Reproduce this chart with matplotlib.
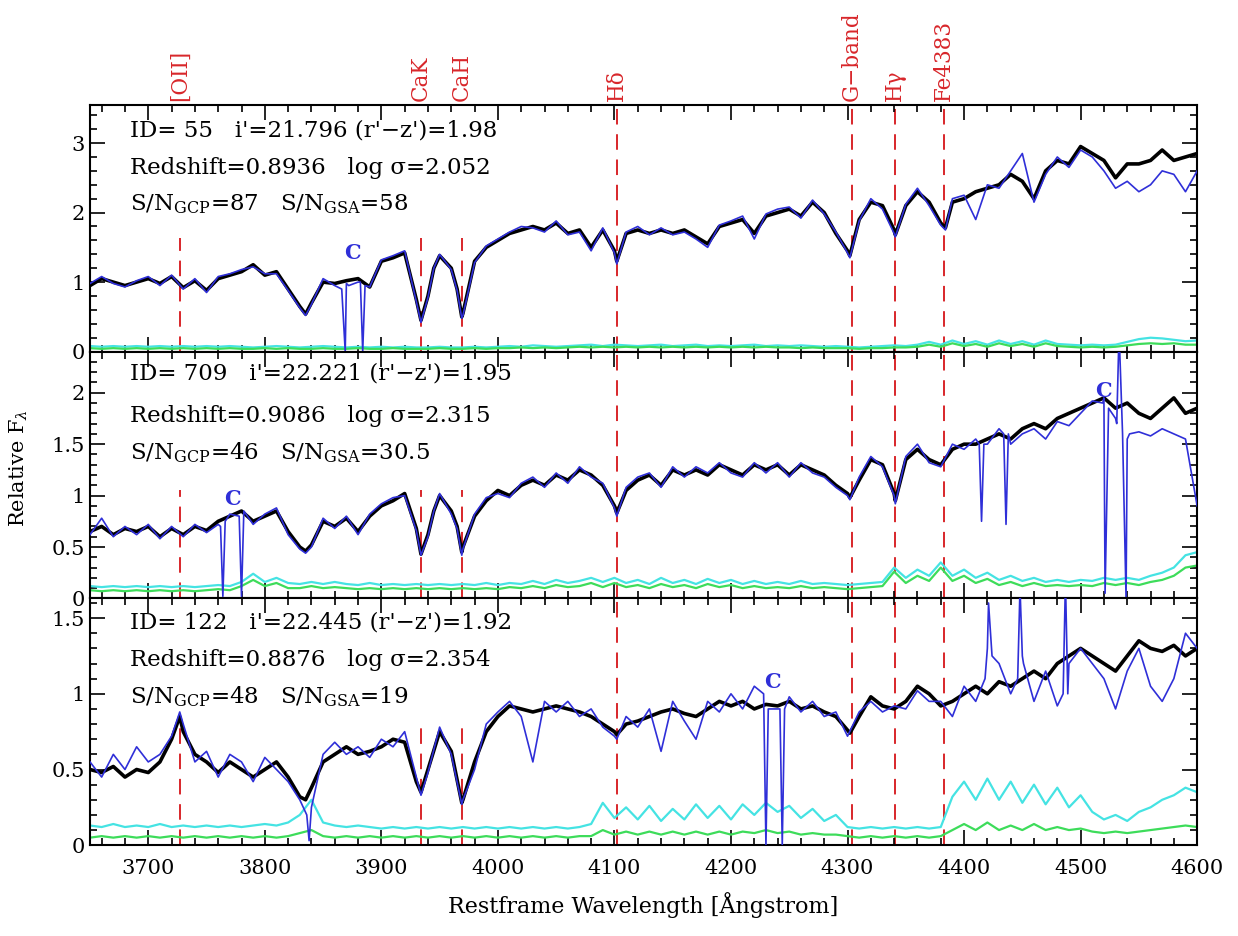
import numpy as np
import matplotlib
matplotlib.use("Agg")
import matplotlib.pyplot as plt
from matplotlib.patches import Rectangle
from matplotlib.ticker import MultipleLocator, FuncFormatter
from matplotlib.transforms import blended_transform_factory

plt.rcParams['font.family'] = ['DejaVu Serif']
plt.rcParams['mathtext.fontset'] = 'dejavuserif'

# ---------------- data ----------------
wl_grid = list(range(3650, 4601, 10))

line_wl = [3727, 3934, 3969, 4102, 4304, 4341, 4383]
line_names = ["[OII]", "CaK", "CaH", "Hδ", "G−band", "Hγ", "Fe4383"]

# Panel 1: ID 55
p1_black = [0.95, 1.05, 1.0, 0.95, 1.0, 1.05, 0.98, 1.08, 0.92, 1.02,
            0.88, 1.05, 1.1, 1.15, 1.25, 1.1, 1.15, 0.9, 0.65, 0.7,
            1.0, 0.98, 1.02, 1.05, 0.93, 1.3, 1.35, 1.42, 0.75, 0.8,
            1.38, 1.2, 0.55, 1.3, 1.5, 1.6, 1.7, 1.75, 1.8, 1.75,
            1.85, 1.7, 1.75, 1.5, 1.75, 1.45, 1.7, 1.75, 1.7, 1.75,
            1.7, 1.75, 1.65, 1.55, 1.8, 1.85, 1.9, 1.7, 1.95, 2.0,
            2.05, 1.95, 2.15, 2.0, 1.7, 1.45, 1.9, 2.15, 2.1, 1.75,
            2.1, 2.3, 2.15, 1.85, 2.15, 2.2, 2.3, 2.35, 2.4, 2.55,
            2.45, 2.2, 2.6, 2.75, 2.7, 2.95, 2.85, 2.75, 2.5, 2.7,
            2.7, 2.75, 2.9, 2.75, 2.8, 2.85]
p1_black_xw = [3835, 3934, 3945, 3965, 3969, 4102, 4302, 4341, 4384]
p1_black_xv = [0.54, 0.45, 1.2, 0.9, 0.5, 1.3, 1.38, 1.68, 1.78]
p1_blue = [0.98, 1.08, 0.98, 0.93, 1.02, 1.08, 0.95, 1.1, 0.9, 1.05,
           0.85, 1.08, 1.12, 1.18, 1.22, 1.12, 1.12, 0.88, 0.63, 0.68,
           1.05, 0.95, 0.98, 1.0, 0.93, 1.32, 1.38, 1.45, 0.72, 0.78,
           1.4, 1.18, 0.52, 1.28, 1.52, 1.62, 1.72, 1.8, 1.78, 1.72,
           1.88, 1.68, 1.72, 1.45, 1.78, 1.42, 1.72, 1.8, 1.68, 1.78,
           1.68, 1.72, 1.62, 1.5, 1.82, 1.88, 1.95, 1.62, 1.98, 2.05,
           2.08, 1.92, 2.18, 1.98, 1.72, 1.42, 1.88, 2.2, 2.05, 1.7,
           2.12, 2.35, 2.1, 1.82, 2.2, 2.25, 1.9, 2.4, 2.35, 2.6,
           2.85, 2.15, 2.55, 2.8, 2.65, 2.9, 2.8, 2.6, 2.35, 2.45,
           2.3, 2.4, 2.6, 2.55, 2.3, 2.6]
p1_blue_xw = [3835, 3866, 3869, 3872, 3882, 3884, 3886, 3934, 3945, 3965, 3969, 4102, 4302, 4341, 4384]
p1_blue_xv = [0.52, 0.9, 0.0, 0.95, 1.0, 0.0, 0.95, 0.42, 1.2, 0.88, 0.48, 1.26, 1.35, 1.65, 1.75]
p1_cyan = [0.08, 0.07, 0.08, 0.07, 0.08, 0.07, 0.08, 0.07, 0.08, 0.07,
           0.08, 0.07, 0.08, 0.07, 0.06, 0.07, 0.08, 0.07, 0.06, 0.07,
           0.08, 0.07, 0.06, 0.07, 0.06, 0.07, 0.06, 0.07, 0.06, 0.06,
           0.07, 0.06, 0.06, 0.07, 0.06, 0.07, 0.08, 0.07, 0.09, 0.08,
           0.07, 0.08, 0.09, 0.1, 0.08, 0.1, 0.09, 0.08, 0.09, 0.1,
           0.08, 0.09, 0.1, 0.08, 0.09, 0.08, 0.09, 0.1, 0.08, 0.09,
           0.08, 0.09, 0.08, 0.07, 0.08, 0.07, 0.06, 0.07, 0.08, 0.09,
           0.08, 0.1, 0.14, 0.1, 0.16, 0.11, 0.15, 0.1, 0.16, 0.11,
           0.15, 0.1, 0.16, 0.11, 0.1, 0.09, 0.1, 0.09, 0.1, 0.14,
           0.18, 0.2, 0.19, 0.17, 0.15, 0.16]
p1_green = [0.05, 0.04, 0.05, 0.04, 0.05, 0.04, 0.05, 0.04, 0.05, 0.04,
            0.05, 0.04, 0.05, 0.04, 0.04, 0.05, 0.04, 0.05, 0.04, 0.04,
            0.05, 0.04, 0.04, 0.05, 0.04, 0.04, 0.05, 0.04, 0.04, 0.04,
            0.05, 0.04, 0.04, 0.05, 0.04, 0.05, 0.05, 0.06, 0.05, 0.06,
            0.05, 0.06, 0.07, 0.06, 0.07, 0.06, 0.07, 0.06, 0.07, 0.06,
            0.07, 0.06, 0.07, 0.06, 0.07, 0.06, 0.07, 0.06, 0.07, 0.06,
            0.06, 0.05, 0.06, 0.05, 0.05, 0.05, 0.04, 0.05, 0.05, 0.06,
            0.06, 0.07, 0.1, 0.07, 0.12, 0.08, 0.11, 0.07, 0.12, 0.08,
            0.11, 0.07, 0.12, 0.08, 0.07, 0.06, 0.07, 0.06, 0.07, 0.09,
            0.11, 0.12, 0.11, 0.12, 0.1, 0.1]

# Panel 2: ID 709
p2_black = [0.65, 0.7, 0.62, 0.68, 0.65, 0.7, 0.6, 0.68, 0.62, 0.7,
            0.66, 0.75, 0.8, 0.85, 0.75, 0.8, 0.85, 0.65, 0.5, 0.52,
            0.75, 0.7, 0.78, 0.65, 0.8, 0.9, 0.95, 1.02, 0.68, 0.62,
            1.0, 0.85, 0.5, 0.8, 0.95, 1.05, 1.0, 1.1, 1.15, 1.1,
            1.2, 1.15, 1.25, 1.2, 1.1, 0.9, 1.05, 1.15, 1.2, 1.1,
            1.25, 1.2, 1.25, 1.2, 1.3, 1.25, 1.2, 1.3, 1.25, 1.3,
            1.2, 1.3, 1.25, 1.2, 1.1, 1.02, 1.15, 1.35, 1.3, 1.02,
            1.35, 1.45, 1.35, 1.3, 1.45, 1.5, 1.5, 1.55, 1.6, 1.55,
            1.65, 1.7, 1.65, 1.75, 1.8, 1.85, 1.9, 1.95, 1.85, 1.9,
            1.8, 1.75, 1.85, 1.95, 1.8, 1.85]
p2_black_xw = [3835, 3934, 3945, 3965, 3969, 4102, 4302, 4341]
p2_black_xv = [0.46, 0.43, 0.85, 0.7, 0.45, 0.83, 0.98, 0.95]
p2_blue = [0.62, 0.78, 0.6, 0.7, 0.62, 0.72, 0.58, 0.7, 0.6, 0.72,
           0.64, 0.72, 0.82, 0.85, 0.72, 0.82, 0.88, 0.62, 0.48, 0.5,
           0.78, 0.68, 0.8, 0.62, 0.82, 0.92, 0.98, 1.0, 0.66, 0.6,
           1.02, 0.82, 0.48, 0.82, 0.98, 1.02, 0.98, 1.12, 1.18, 1.08,
           1.22, 1.12, 1.28, 1.18, 1.12, 0.88, 1.08, 1.18, 1.22, 1.08,
           1.28, 1.18, 1.28, 1.22, 1.32, 1.22, 1.18, 1.32, 1.22, 1.32,
           1.18, 1.32, 1.22, 1.18, 1.08, 1.0, 1.18, 1.38, 1.28, 1.0,
           1.38, 1.5, 1.32, 1.28, 1.5, 1.45, 1.55, 1.5, 1.65, 1.5,
           1.6, 1.65, 1.55, 1.72, 1.68, 1.8, 1.92, 1.95, 1.75, 1.55,
           1.62, 1.58, 1.65, 1.6, 1.55, 0.9]
p2_blue_xw = [3762, 3764, 3766, 3778, 3780, 3782, 3835, 3934, 3945, 3965, 3969, 4102, 4302, 4341,
              4413, 4415, 4417, 4434, 4436, 4438, 4519, 4521, 4524, 4531, 4533, 4536, 4539, 4542]
p2_blue_xv = [0.7, 0.02, 0.75, 0.8, 0.02, 0.85, 0.44, 0.42, 0.85, 0.68, 0.42, 0.8, 0.96, 0.92,
              1.5, 0.75, 1.5, 1.6, 0.72, 1.6, 1.9, 0.05, 1.85, 1.7, 2.6, 1.6, 0.0, 1.6]
p2_cyan = [0.12, 0.11, 0.12, 0.11, 0.12, 0.11, 0.12, 0.11, 0.12, 0.11,
           0.12, 0.13, 0.12, 0.16, 0.24, 0.16, 0.2, 0.15, 0.14, 0.16,
           0.14, 0.16, 0.14, 0.13, 0.15, 0.13, 0.14, 0.13, 0.14, 0.13,
           0.14, 0.13, 0.14, 0.13, 0.15, 0.13, 0.15, 0.14, 0.17, 0.14,
           0.18, 0.15, 0.17, 0.2, 0.16, 0.2, 0.15, 0.18, 0.14, 0.2,
           0.15, 0.18, 0.14, 0.19, 0.15, 0.18, 0.14, 0.17, 0.14, 0.16,
           0.14, 0.17, 0.14, 0.15, 0.14, 0.13, 0.14, 0.15, 0.16, 0.3,
           0.2, 0.28, 0.22, 0.35, 0.22, 0.28, 0.2, 0.25, 0.18, 0.22,
           0.17, 0.2, 0.16, 0.18, 0.16, 0.18, 0.17, 0.2, 0.18, 0.2,
           0.18, 0.22, 0.25, 0.3, 0.42, 0.45]
p2_green = [0.08, 0.07, 0.08, 0.07, 0.08, 0.07, 0.08, 0.07, 0.08, 0.07,
            0.08, 0.09, 0.08, 0.12, 0.18, 0.12, 0.15, 0.1, 0.1, 0.12,
            0.1, 0.11, 0.1, 0.09, 0.1, 0.09, 0.1, 0.09, 0.1, 0.09,
            0.1, 0.09, 0.1, 0.09, 0.1, 0.09, 0.11, 0.1, 0.12, 0.1,
            0.13, 0.11, 0.12, 0.15, 0.11, 0.15, 0.11, 0.13, 0.1, 0.14,
            0.11, 0.13, 0.1, 0.14, 0.11, 0.13, 0.1, 0.12, 0.1, 0.11,
            0.1, 0.12, 0.1, 0.11, 0.1, 0.09, 0.1, 0.11, 0.12, 0.26,
            0.15, 0.22, 0.17, 0.3, 0.17, 0.22, 0.15, 0.19, 0.13, 0.16,
            0.12, 0.15, 0.12, 0.13, 0.12, 0.13, 0.12, 0.15, 0.13, 0.15,
            0.13, 0.16, 0.18, 0.22, 0.3, 0.32]

# Panel 3: ID 122
p3_black = [0.5, 0.48, 0.52, 0.45, 0.5, 0.48, 0.55, 0.7, 0.75, 0.6,
            0.55, 0.48, 0.55, 0.5, 0.45, 0.5, 0.55, 0.45, 0.32, 0.38,
            0.55, 0.6, 0.65, 0.6, 0.62, 0.65, 0.7, 0.68, 0.42, 0.5,
            0.75, 0.62, 0.3, 0.55, 0.75, 0.85, 0.92, 0.9, 0.88, 0.9,
            0.92, 0.9, 0.88, 0.85, 0.8, 0.75, 0.8, 0.82, 0.85, 0.88,
            0.9, 0.87, 0.85, 0.9, 0.95, 0.92, 0.95, 0.9, 0.93, 0.92,
            0.95, 0.9, 0.92, 0.88, 0.85, 0.76, 0.85, 0.98, 0.92, 0.9,
            0.95, 1.05, 1.0, 0.92, 0.95, 1.0, 1.05, 1.0, 1.08, 1.05,
            1.1, 1.15, 1.1, 1.2, 1.25, 1.3, 1.25, 1.2, 1.15, 1.25,
            1.35, 1.3, 1.28, 1.32, 1.25, 1.3]
p3_black_xw = [3727, 3835, 3934, 3969, 4102, 4302]
p3_black_xv = [0.85, 0.3, 0.35, 0.28, 0.73, 0.74]
p3_blue = [0.55, 0.45, 0.6, 0.5, 0.65, 0.55, 0.6, 0.72, 0.8, 0.55,
           0.62, 0.45, 0.6, 0.55, 0.42, 0.58, 0.5, 0.42, 0.3, 0.35,
           0.6, 0.68, 0.6, 0.65, 0.58, 0.7, 0.65, 0.75, 0.45, 0.48,
           0.78, 0.6, 0.3, 0.5, 0.8, 0.88, 0.95, 0.85, 0.55, 0.95,
           0.88, 0.95, 0.85, 0.9, 0.78, 0.72, 0.85, 0.78, 0.9, 0.62,
           0.95, 0.82, 0.7, 0.95, 0.88, 1.0, 0.9, 1.05, 0.95, 0.9,
           0.98, 0.88, 0.95, 0.85, 0.88, 0.72, 0.88, 0.95, 0.88, 0.92,
           0.9, 1.02, 0.95, 0.95, 0.85, 1.05, 0.95, 1.3, 1.2, 1.0,
           1.25, 0.95, 1.15, 0.92, 1.2, 1.3, 1.2, 1.1, 0.9, 1.15,
           1.3, 1.05, 0.95, 1.1, 1.4, 1.3]
p3_blue_xw = [3727, 3836, 3838, 3840, 3934, 3969, 4102, 4228, 4230, 4232, 4242, 4244, 4246,
              4418, 4421, 4424, 4446, 4448, 4451, 4485, 4487, 4489]
p3_blue_xv = [0.88, 0.2, 0.03, 0.25, 0.33, 0.27, 0.7, 1.0, 0.0, 0.9, 0.9, 0.0, 0.9,
              1.1, 1.6, 1.25, 1.1, 1.7, 1.2, 1.0, 1.75, 1.0]
p3_cyan = [0.13, 0.12, 0.14, 0.12, 0.13, 0.12, 0.14, 0.12, 0.13, 0.12,
           0.13, 0.12, 0.13, 0.12, 0.13, 0.14, 0.13, 0.15, 0.2, 0.3,
           0.15, 0.13, 0.12, 0.13, 0.12, 0.11, 0.12, 0.11, 0.12, 0.11,
           0.12, 0.11, 0.12, 0.11, 0.12, 0.11, 0.12, 0.11, 0.12, 0.11,
           0.12, 0.11, 0.12, 0.14, 0.28, 0.18, 0.25, 0.17, 0.26, 0.16,
           0.24, 0.17, 0.27, 0.18, 0.26, 0.17, 0.27, 0.2, 0.28, 0.22,
           0.26, 0.18, 0.24, 0.16, 0.2, 0.12, 0.11, 0.12, 0.11, 0.12,
           0.11, 0.12, 0.11, 0.12, 0.32, 0.42, 0.3, 0.44, 0.3, 0.42,
           0.28, 0.4, 0.27, 0.38, 0.25, 0.33, 0.22, 0.17, 0.2, 0.16,
           0.22, 0.25, 0.3, 0.33, 0.38, 0.35]
p3_green = [0.05, 0.06, 0.05, 0.06, 0.05, 0.06, 0.05, 0.06, 0.05, 0.06,
            0.05, 0.06, 0.05, 0.06, 0.05, 0.06, 0.05, 0.06, 0.08, 0.1,
            0.06, 0.05, 0.06, 0.05, 0.06, 0.05, 0.06, 0.05, 0.06, 0.05,
            0.06, 0.05, 0.06, 0.05, 0.06, 0.05, 0.06, 0.05, 0.06, 0.05,
            0.06, 0.05, 0.06, 0.06, 0.1, 0.07, 0.09, 0.07, 0.09, 0.07,
            0.09, 0.07, 0.09, 0.07, 0.09, 0.07, 0.09, 0.08, 0.1, 0.08,
            0.09, 0.07, 0.08, 0.07, 0.07, 0.06, 0.05, 0.06, 0.05, 0.06,
            0.05, 0.06, 0.05, 0.06, 0.1, 0.14, 0.1, 0.15, 0.1, 0.13,
            0.1, 0.14, 0.1, 0.12, 0.1, 0.11, 0.09, 0.08, 0.09, 0.08,
            0.09, 0.1, 0.11, 0.12, 0.13, 0.12]

p_ylim = [3.55, 2.4, 1.63]
p_major = [1.0, 0.5, 0.5]
p_minor = [0.2, 0.1, 0.1]
p_text = [
    ["ID= 55   i'=21.796 (r'−z')=1.98",
     "Redshift=0.8936   log σ=2.052",
     r"S/N$_{\rm GCP}$=87   S/N$_{\rm GSA}$=58"],
    ["ID= 709   i'=22.221 (r'−z')=1.95",
     "Redshift=0.9086   log σ=2.315",
     r"S/N$_{\rm GCP}$=46   S/N$_{\rm GSA}$=30.5"],
    ["ID= 122   i'=22.445 (r'−z')=1.92",
     "Redshift=0.8876   log σ=2.354",
     r"S/N$_{\rm GCP}$=48   S/N$_{\rm GSA}$=19"],
]
c_wl = [[3875], [3772, 4520], [4236]]
c_val = [[1.42], [0.97, 2.02], [1.08]]

panels = [
    (p1_black, p1_black_xw, p1_black_xv, p1_blue, p1_blue_xw, p1_blue_xv, p1_cyan, p1_green),
    (p2_black, p2_black_xw, p2_black_xv, p2_blue, p2_blue_xw, p2_blue_xv, p2_cyan, p2_green),
    (p3_black, p3_black_xw, p3_black_xv, p3_blue, p3_blue_xw, p3_blue_xv, p3_cyan, p3_green),
]
text_y = [[0.897, 0.745, 0.597], [0.911, 0.738, 0.589], [0.904, 0.751, 0.602]]
box_bottom = [0.46, 0.44, 0.50]


def merged(base_vals, xw, xv):
    w = np.array(wl_grid + list(xw), dtype=float)
    v = np.array(list(base_vals) + list(xv), dtype=float)
    order = np.argsort(w, kind="stable")
    w, v = w[order], v[order]
    keep = np.ones(len(w), bool)
    for i in range(1, len(w)):
        if w[i] == w[i - 1]:
            keep[i - 1] = False
    return w[keep], v[keep]


fig = plt.figure(figsize=(12.38, 9.36), dpi=100)
left, right, top, bottom = 0.0727, 0.967, 0.888, 0.097
h = (top - bottom) / 3.0
axes = []
for i in range(3):
    ax = fig.add_axes([left, top - (i + 1) * h, right - left, h])
    axes.append(ax)

BLUE = '#2f2fd8'
CYAN = '#45e3e3'
GREEN = '#3ddc5a'
RED = '#d8262a'

for i, ax in enumerate(axes):
    blk, bxw, bxv, blu, uxw, uxv, cya, gre = panels[i]
    ax.set_xlim(3650, 4600)
    ax.set_ylim(0, p_ylim[i])
    for lw_ in line_wl:
        ax.axvline(lw_, color=RED, lw=1.4, ls=(0, (8, 5)), zorder=1)
    ax.add_patch(Rectangle((0.003, box_bottom[i]), 0.41, 0.995 - box_bottom[i],
                           transform=ax.transAxes, facecolor='white',
                           edgecolor='none', zorder=1.5))
    ax.plot(wl_grid, cya, color=CYAN, lw=1.6, zorder=2)
    ax.plot(wl_grid, gre, color=GREEN, lw=1.6, zorder=2.1)
    wb, vb = merged(blk, bxw, bxv)
    ax.plot(wb, vb, color='black', lw=2.6, zorder=3)
    wu, vu = merged(blu, uxw, uxv)
    ax.plot(wu, vu, color=BLUE, lw=1.2, zorder=3.1)
    for cw, cv in zip(c_wl[i], c_val[i]):
        ax.text(cw, cv, "C", color=BLUE, fontsize=15, ha='center', va='center',
                fontweight='bold', zorder=4)
    for t, ty in zip(p_text[i], text_y[i]):
        ax.text(0.036, ty, t, transform=ax.transAxes, fontsize=16.5,
                va='center', ha='left', zorder=5)
    ax.xaxis.set_major_locator(MultipleLocator(100))
    ax.xaxis.set_minor_locator(MultipleLocator(20))
    ax.yaxis.set_major_locator(MultipleLocator(p_major[i]))
    ax.yaxis.set_minor_locator(MultipleLocator(p_minor[i]))
    ax.yaxis.set_major_formatter(FuncFormatter(lambda v, p: "%g" % v))
    ax.tick_params(which='both', direction='in', top=True, right=True,
                   width=1.2, labelsize=15)
    ax.tick_params(which='major', length=11)
    ax.tick_params(which='minor', length=5)
    ax.tick_params(axis='x', pad=10)
    for s in ax.spines.values():
        s.set_linewidth(1.5)
    if i < 2:
        ax.tick_params(labelbottom=False)

trans = blended_transform_factory(axes[0].transData, axes[0].transAxes)
for lw_, nm in zip(line_wl, line_names):
    axes[0].text(lw_, 1.015, nm, transform=trans, rotation=90, color=RED,
                 fontsize=15.5, ha='center', va='bottom', clip_on=False)

axes[2].set_xlabel("Restframe Wavelength [Ångstrom]", fontsize=16, labelpad=10)
fig.text(0.015, 0.5, r"Relative F$_\lambda$", rotation=90, fontsize=15,
         va='center', ha='center')

fig.savefig("out.png", dpi=100)
